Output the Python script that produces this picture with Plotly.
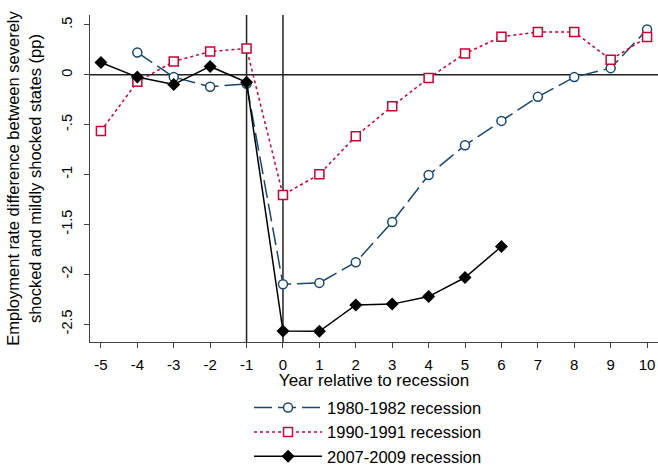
import plotly.graph_objects as go

years = list(range(-5, 11))

r1980_years = list(range(-4, 11))
r1980 = [0.224, -0.023, -0.12, -0.09, -2.10, -2.087, -1.88, -1.477, -1.005,
         -0.707, -0.462, -0.221, -0.023, 0.067, 0.455]

r1990_years = list(range(-5, 11))
r1990 = [-0.563, -0.07, 0.134, 0.234, 0.264, -1.206, -0.998, -0.616, -0.315,
         -0.033, 0.214, 0.382, 0.429, 0.429, 0.151, 0.379]

r2007_years = list(range(-5, 7))
r2007 = [0.124, -0.023, -0.097, 0.084, -0.074, -2.57, -2.573, -2.308, -2.30,
         -2.224, -2.033, -1.722]

y_ticks = [0.5, 0, -0.5, -1, -1.5, -2, -2.5]
y_ticklabels = [".5", "0", "-.5", "-1", "-1.5", "-2", "-2.5"]
reference_years = [-1, 0]

FONT = "Liberation Sans, Arial, sans-serif"
BLUE = "#1a476f"
RED = "#c10534"

fig = go.Figure()
fig.add_trace(go.Scatter(
    x=r1980_years, y=r1980, mode="lines+markers", name="1980-1982 recession",
    line=dict(color=BLUE, width=1.5, dash="18px,6px"),
    marker=dict(symbol="circle", size=9, color="white", line=dict(color=BLUE, width=1.5)),
))
fig.add_trace(go.Scatter(
    x=r1990_years, y=r1990, mode="lines+markers", name="1990-1991 recession",
    line=dict(color=RED, width=1.5, dash="3px,3px"),
    marker=dict(symbol="square", size=9, color="white", line=dict(color=RED, width=1.5)),
))
fig.add_trace(go.Scatter(
    x=r2007_years, y=r2007, mode="lines+markers", name="2007-2009 recession",
    line=dict(color="black", width=1.5),
    marker=dict(symbol="diamond", size=10, color="black", line=dict(color="black", width=0)),
))

for ry in reference_years:
    fig.add_shape(type="line", xref="x", yref="paper", x0=ry, x1=ry, y0=0, y1=1,
                  line=dict(color="#222222", width=1.5), layer="below")
fig.add_shape(type="line", xref="paper", yref="y", x0=0, x1=1, y0=0, y1=0,
              line=dict(color="#222222", width=1.5), layer="below")

fig.update_layout(
    width=658, height=469,
    margin=dict(l=90, r=0, t=15, b=127, autoexpand=False),
    paper_bgcolor="white", plot_bgcolor="white",
    font=dict(family=FONT, size=15, color="black"),
    showlegend=True,
    legend=dict(
        xref="paper", yref="container",
        x=0.28, y=0.168, xanchor="left", yanchor="top",
        font=dict(size=16.5), itemwidth=68, tracegroupgap=0,
        bgcolor="rgba(0,0,0,0)",
    ),
    xaxis=dict(
        range=[-5.3, 10.3], tickmode="array", tickvals=years,
        ticktext=[str(v) for v in years], automargin=True,
        showgrid=False, zeroline=False, showline=True, linecolor="#444444", linewidth=1.2,
        ticks="outside", ticklen=5, tickcolor="#444444", ticklabelstandoff=4,
        title=dict(text="Year relative to recession", standoff=5, font=dict(size=17)),
        tickfont=dict(size=15),
    ),
    yaxis=dict(
        range=[-2.68, 0.6], tickmode="array", tickvals=y_ticks, ticktext=y_ticklabels,
        tickangle=-90, automargin=False,
        showgrid=False, zeroline=False, showline=True, linecolor="#444444", linewidth=1.2,
        ticks="outside", ticklen=5, tickcolor="#444444", ticklabelstandoff=6,
        title=dict(text="Employment rate difference between severely<br>shocked and mildly shocked states (pp)",
                   standoff=13, font=dict(size=16.5)),
        tickfont=dict(size=14.5),
    ),
)

fig.write_html("out.html")
